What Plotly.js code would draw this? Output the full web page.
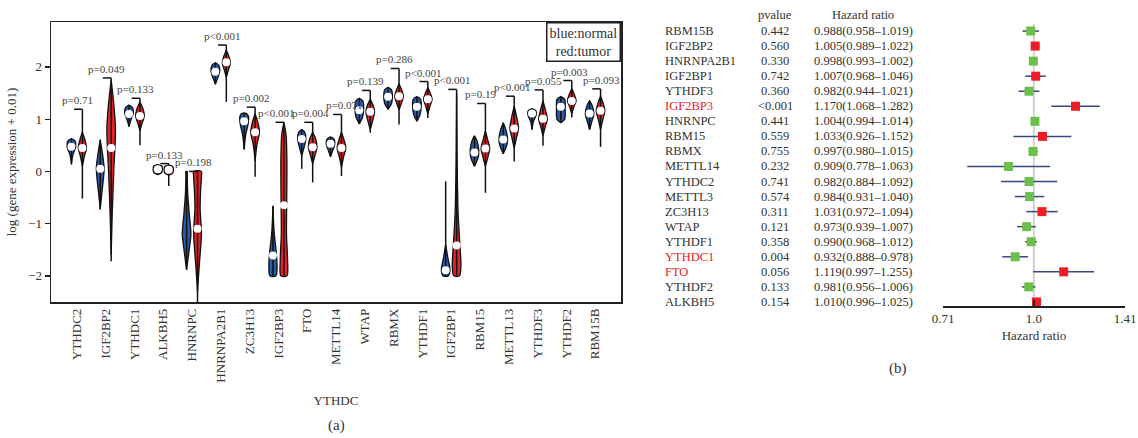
<!DOCTYPE html>
<html>
<head>
<meta charset="utf-8">
<script src="https://cdn.plot.ly/plotly-3.0.1.min.js"></script>
<style>
  html, body { margin: 0; padding: 0; background: #fff; }
  #chart { width: 1138px; height: 438px; }
</style>
</head>
<body>
<div id="chart"></div>
<script>
// ---------- (a) expression of m6A regulators, normal vs tumor ----------
const genes = ['YTHDC2','IGF2BP2','YTHDC1','ALKBH5','HNRNPC','HNRNPA2B1','ZC3H13','IGF2BP3','FTO','METTL14',
               'WTAP','RBMX','YTHDF1','IGF2BP1','RBM15','METTL13','YTHDF3','YTHDF2','RBM15B'];
const pLabels = ['p=0.71','p=0.049','p=0.133','p=0.133','p=0.198','p<0.001','p=0.002','p<0.001','p=0.004','p=0.071',
                 'p=0.139','p=0.286','p<0.001','p<0.001','p=0.19','p<0.001','p=0.055','p=0.003','p=0.093'];

const normalMedian = [0.47,0.05,1.10,0.04,null,1.91,0.96,-1.61,0.62,0.53,1.17,1.43,1.24,-1.89,0.36,0.61,1.11,1.24,1.11];
const tumorMedian  = [0.45,0.45,1.06,0.03,-1.10,2.09,0.75,-0.65,0.46,0.45,1.14,1.44,1.38,-1.42,0.44,0.82,1.01,1.35,1.16];
const normalMin = [0.13,-0.73,0.86,-0.05,-1.88,1.67,0.42,-2.0,0.05,0.28,0.92,1.19,0.96,-2.0,0.10,0.34,0.80,0.93,0.80];
const normalMax = [0.62,0.61,1.26,0.08,0.0,2.08,1.11,-0.66,0.79,0.65,1.40,1.60,1.42,-0.19,0.68,0.93,1.19,1.43,1.35];
const tumorMin  = [-0.52,-1.72,0.50,-0.28,-2.5,1.33,-0.10,-2.0,-0.21,-0.09,0.74,0.90,1.02,-2.0,-0.41,0.19,0.49,1.03,0.47];
const tumorMax  = [1.19,1.79,1.40,0.15,0.0,2.42,1.23,0.94,0.94,1.09,1.55,1.97,1.72,1.57,1.30,1.44,1.56,1.74,1.58];

// density profiles: [level, relative density] from low to high
const normalDensity = [
  [[0.15,0],[0.32,0.35],[0.47,1],[0.58,0.85],[0.63,0]],
  [[-0.72,0],[-0.4,0.4],[0.05,0.9],[0.35,0.5],[0.6,0]],
  [[0.86,0],[1.0,0.5],[1.12,1],[1.22,0.8],[1.27,0]],
  [[-0.06,0],[-0.02,0.95],[0.1,0.95],[0.13,0]],
  [[-1.88,0],[-1.5,0.6],[-1.2,1.0],[-0.8,0.6],[-0.4,0.25],[-0.05,0.15],[0,0.15]],
  [[1.67,0],[1.8,0.6],[1.92,1],[2.03,0.8],[2.08,0]],
  [[0.42,0],[0.7,0.35],[0.9,0.9],[1.05,1],[1.1,0.7],[1.12,0]],
  [[-2.0,0.7],[-1.8,0.95],[-1.5,0.7],[-1.2,0.3],[-0.9,0.1],[-0.66,0]],
  [[0.3,0],[0.45,0.5],[0.62,0.95],[0.75,0.7],[0.8,0]],
  [[0.28,0],[0.4,0.5],[0.53,1],[0.62,0.8],[0.66,0]],
  [[0.91,0],[1.05,0.8],[1.2,1],[1.35,0.8],[1.4,0]],
  [[1.19,0],[1.3,0.8],[1.45,1],[1.56,0.8],[1.61,0]],
  [[0.96,0],[1.08,0.7],[1.25,1],[1.38,0.85],[1.43,0]],
  [[-2.0,0.6],[-1.88,1.0],[-1.65,0.5],[-1.4,0]],
  [[0.1,0],[0.25,0.8],[0.4,1],[0.58,0.6],[0.68,0]],
  [[0.34,0],[0.5,0.8],[0.62,1],[0.8,0.6],[0.93,0]],
  [[0.8,0],[0.95,0.3],[1.08,0.95],[1.16,0.9],[1.2,0]],
  [[0.93,0],[1.0,0.9],[1.2,1],[1.38,0.9],[1.43,0]],
  [[0.8,0],[0.95,0.5],[1.1,1],[1.25,0.65],[1.35,0]]
];
const tumorDensity = [
  [[0.1,0],[0.3,0.5],[0.45,0.95],[0.6,0.6],[0.75,0]],
  [[-1.6,0],[-0.8,0.25],[0.0,0.6],[0.8,1.0],[1.3,0.6],[1.75,0]],
  [[0.78,0],[0.92,0.5],[1.06,1],[1.2,0.7],[1.33,0]],
  [[-0.07,0],[-0.03,0.95],[0.09,0.95],[0.12,0]],
  [[-2.3,0],[-1.8,0.4],[-1.2,0.9],[-0.7,0.6],[-0.4,0.7],[-0.1,0.9],[0,0.9]],
  [[1.8,0],[1.95,0.5],[2.08,0.95],[2.2,0.6],[2.32,0]],
  [[0.2,0],[0.5,0.4],[0.75,1],[0.95,0.6],[1.1,0]],
  [[-2.0,0.7],[-1.7,0.85],[-1.2,0.6],[-0.6,0.65],[0.2,0.7],[0.7,0.5],[0.94,0]],
  [[0.15,0],[0.3,0.5],[0.46,1],[0.62,0.7],[0.75,0]],
  [[0.08,0],[0.28,0.5],[0.45,1],[0.6,0.6],[0.75,0]],
  [[0.8,0],[0.98,0.6],[1.14,1],[1.28,0.6],[1.38,0]],
  [[1.18,0],[1.32,0.6],[1.44,1],[1.56,0.6],[1.68,0]],
  [[1.1,0],[1.25,0.5],[1.38,1],[1.5,0.55],[1.6,0]],
  [[-2.0,0.65],[-1.8,1.0],[-1.4,0.75],[-0.8,0.35],[0,0.15],[0.8,0.06],[1.5,0]],
  [[0.1,0],[0.28,0.6],[0.44,1],[0.6,0.55],[0.77,0]],
  [[0.45,0],[0.65,0.55],[0.82,1],[1.05,0.55],[1.25,0]],
  [[0.68,0],[0.85,0.5],[1.0,1],[1.2,0.5],[1.35,0]],
  [[1.1,0],[1.25,0.55],[1.35,1],[1.47,0.6],[1.58,0]],
  [[0.8,0],[1.0,0.55],[1.16,1],[1.32,0.55],[1.44,0]]
];

// ---------- (b) univariate Cox regression ----------
const coxGenes = ['RBM15B','IGF2BP2','HNRNPA2B1','IGF2BP1','YTHDF3','IGF2BP3','HNRNPC','RBM15','RBMX','METTL14',
                  'YTHDC2','METTL3','ZC3H13','WTAP','YTHDF1','YTHDC1','FTO','YTHDF2','ALKBH5'];
const coxP = ['0.442','0.560','0.330','0.742','0.360','<0.001','0.441','0.559','0.755','0.232',
              '0.741','0.574','0.311','0.121','0.358','0.004','0.056','0.133','0.154'];
const hazard = [0.988,1.005,0.998,1.007,0.982,1.170,1.004,1.033,0.997,0.909,0.982,0.984,1.031,0.973,0.990,0.932,1.119,0.981,1.010];
const hrLow  = [0.958,0.989,0.993,0.968,0.944,1.068,0.994,0.926,0.980,0.778,0.884,0.931,0.972,0.939,0.968,0.888,0.997,0.956,0.996];
const hrHigh = [1.019,1.022,1.002,1.046,1.021,1.282,1.014,1.152,1.015,1.063,1.092,1.040,1.094,1.007,1.012,0.978,1.255,1.006,1.025];
const riskGroup = [0,1,0,1,0,1,0,1,0,0,0,0,1,0,0,0,1,0,1];   // 1 = risk, 0 = protective
const highlighted = ['IGF2BP3','YTHDC1','FTO'];
const hrTicks = [0.71, 1.0, 1.41];
const hrTickText = ['0.71','1.0','1.41'];

// ---------- styling ----------
const W = 1138, H = 438;
const SERIF = '"Liberation Serif", "DejaVu Serif", serif';
const TXT = '#333';
const BLUE = '#2a5ba8', RED = '#e3222b';
const HALF = 0.15;          // max half-width of a violin, category units
const OFF = 0.19;           // side offset of normal / tumor violins
const px = v => v / W, py = v => 1 - v / H;
// small horizontal nudges (px) that keep neighbouring p labels apart
const labelNudge = { IGF2BP3: -3, FTO: 2, METTL14: 7, METTL13: 2, YTHDF3: 5, YTHDF2: 2, RBM15B: 5 };

const traces = [];

function violinTrace(center, knots, fill) {
  const xs = [], ys = [];
  knots.forEach(k => { xs.push(center + k[1] * HALF); ys.push(k[0]); });
  for (let i = knots.length - 1; i >= 0; i--) { xs.push(center - knots[i][1] * HALF); ys.push(knots[i][0]); }
  xs.push(xs[0]); ys.push(ys[0]);
  return {
    type: 'scatter', mode: 'lines', x: xs, y: ys, fill: 'toself', fillcolor: fill,
    line: { color: '#111', width: 1.3, shape: 'spline', smoothing: 0.8 },
    hoverinfo: 'skip', showlegend: false, xaxis: 'x', yaxis: 'y'
  };
}

genes.forEach((g, i) => {
  traces.push(violinTrace(i - OFF, normalDensity[i], BLUE));
  traces.push(violinTrace(i + OFF, tumorDensity[i], RED));
});

// whiskers and p-value brackets
const wx = [], wy = [];
genes.forEach((g, i) => {
  wx.push(i - OFF, i - OFF, null); wy.push(normalMin[i], normalMax[i], null);
  wx.push(i + OFF, i + OFF, null); wy.push(tumorMin[i], tumorMax[i], null);
  wx.push(i - 0.1, i + OFF, null); wy.push(tumorMax[i], tumorMax[i], null);
});
traces.push({ type: 'scatter', mode: 'lines', x: wx, y: wy, line: { color: '#111', width: 1.5 },
  hoverinfo: 'skip', showlegend: false, xaxis: 'x', yaxis: 'y' });

// medians
const mx = [], my = [];
genes.forEach((g, i) => {
  if (normalMedian[i] !== null) { mx.push(i - OFF); my.push(normalMedian[i]); }
  mx.push(i + OFF); my.push(tumorMedian[i]);
});
traces.push({ type: 'scatter', mode: 'markers', x: mx, y: my,
  marker: { color: '#fff', size: 8, line: { width: 0 } },
  hoverinfo: 'skip', showlegend: false, xaxis: 'x', yaxis: 'y' });

// forest plot
const rowY = coxGenes.map((g, i) => coxGenes.length - 1 - i);
traces.push({
  type: 'scatter', mode: 'markers', x: hazard, y: rowY, xaxis: 'x2', yaxis: 'y2',
  marker: { symbol: 'square', size: 9, color: riskGroup.map(r => r ? '#ee1c25' : '#6cbf4a'), line: { width: 0 } },
  error_x: { type: 'data', symmetric: false,
    array: hazard.map((h, i) => hrHigh[i] - h), arrayminus: hazard.map((h, i) => h - hrLow[i]),
    color: '#3a4780', thickness: 1.5, width: 0 },
  hoverinfo: 'skip', showlegend: false
});

const annotations = [];
// p-value labels
genes.forEach((g, i) => {
  annotations.push({ xref: 'x', yref: 'y', x: i, y: tumorMax[i], text: pLabels[i], showarrow: false,
    xanchor: 'center', yanchor: 'bottom', yshift: 1, xshift: 1 + (labelNudge[g] || 0),
    font: { family: SERIF, size: 11, color: '#444' } });
});
// group key
annotations.push({ xref: 'paper', yref: 'paper', x: px(621), y: py(22), xanchor: 'right', yanchor: 'top',
  text: 'blue:normal<br>red:tumor', showarrow: false, align: 'center',
  bordercolor: '#222', borderwidth: 1.5, borderpad: 2, bgcolor: '#fff',
  font: { family: SERIF, size: 14, color: TXT } });
// panel tags
annotations.push({ xref: 'paper', yref: 'paper', x: px(336), y: py(425), xanchor: 'center', yanchor: 'middle',
  text: '(a)', showarrow: false, font: { family: SERIF, size: 15, color: TXT } });
annotations.push({ xref: 'paper', yref: 'paper', x: px(898), y: py(368), xanchor: 'center', yanchor: 'middle',
  text: '(b)', showarrow: false, font: { family: SERIF, size: 15, color: TXT } });

// forest table
const headY = coxGenes.length + 0.06;
const cell = (x, y, text, anchor, color) => ({
  xref: 'paper', yref: 'y2', x: px(x), y: y, xanchor: anchor, yanchor: 'middle', text: text, showarrow: false,
  font: { family: SERIF, size: 12.5, color: color || TXT }
});
annotations.push(cell(775, headY, 'pvalue', 'center'));
annotations.push(cell(863, headY, 'Hazard ratio', 'center'));
coxGenes.forEach((g, i) => {
  annotations.push(cell(663, rowY[i], g, 'left', highlighted.includes(g) ? '#e8202a' : TXT));
  annotations.push(cell(775, rowY[i], coxP[i], 'center'));
  annotations.push(cell(863, rowY[i],
    hazard[i].toFixed(3) + '(' + hrLow[i].toFixed(3) + '\u2013' + hrHigh[i].toFixed(3) + ')', 'center'));
});

const shapes = [
  { type: 'line', xref: 'x2', yref: 'y2', x0: 1, x1: 1, y0: -0.27, y1: coxGenes.length - 0.55,
    line: { color: '#d2d2d2', width: 2 }, layer: 'below' }
];

const layout = {
  width: W, height: H,
  margin: { l: 0, r: 0, t: 0, b: 0 },
  paper_bgcolor: '#fff', plot_bgcolor: '#fff',
  font: { family: SERIF, color: TXT },
  showlegend: false,
  xaxis: {
    domain: [px(51), px(621)], range: [-0.9, 18.9], anchor: 'y',
    tickmode: 'array', tickvals: genes.map((g, i) => i), ticktext: genes, tickangle: -90,
    ticks: '', showline: true, mirror: true, linecolor: '#222', linewidth: 1.5,
    showgrid: false, zeroline: false, automargin: false,
    tickfont: { family: SERIF, size: 13, color: TXT },
    title: { text: 'YTHDC', standoff: 14, font: { family: SERIF, size: 13, color: TXT } }
  },
  yaxis: {
    domain: [py(302), py(22)], range: [-2.5, 2.86], anchor: 'x',
    tickmode: 'array', tickvals: [-2, -1, 0, 1, 2],
    ticks: 'outside', ticklen: 5, tickwidth: 1.3, tickcolor: '#222',
    showline: true, mirror: true, linecolor: '#222', linewidth: 1.5,
    showgrid: false, zeroline: false, automargin: false,
    tickfont: { family: SERIF, size: 13, color: TXT },
    title: { text: 'log (gene expression + 0.01)', standoff: 8, font: { family: SERIF, size: 13, color: TXT } }
  },
  xaxis2: {
    domain: [px(943), px(1125)], type: 'log', range: [Math.log10(0.71), Math.log10(1.41)], anchor: 'y2',
    tickmode: 'array', tickvals: hrTicks, ticktext: hrTickText,
    ticks: 'inside', ticklen: 6, tickwidth: 1.5, tickcolor: '#222',
    showline: true, linecolor: '#222', linewidth: 1.5, showgrid: false, zeroline: false, automargin: false,
    tickfont: { family: SERIF, size: 13, color: TXT },
    title: { text: 'Hazard ratio', standoff: 6, font: { family: SERIF, size: 13, color: TXT } }
  },
  yaxis2: {
    domain: [py(306), py(8)], range: [-0.27, 19.53], anchor: 'x2',
    visible: false, showgrid: false, zeroline: false, fixedrange: true
  },
  annotations: annotations,
  shapes: shapes
};

Plotly.newPlot('chart', traces, layout, { staticPlot: true, displayModeBar: false });
</script>
</body>
</html>
